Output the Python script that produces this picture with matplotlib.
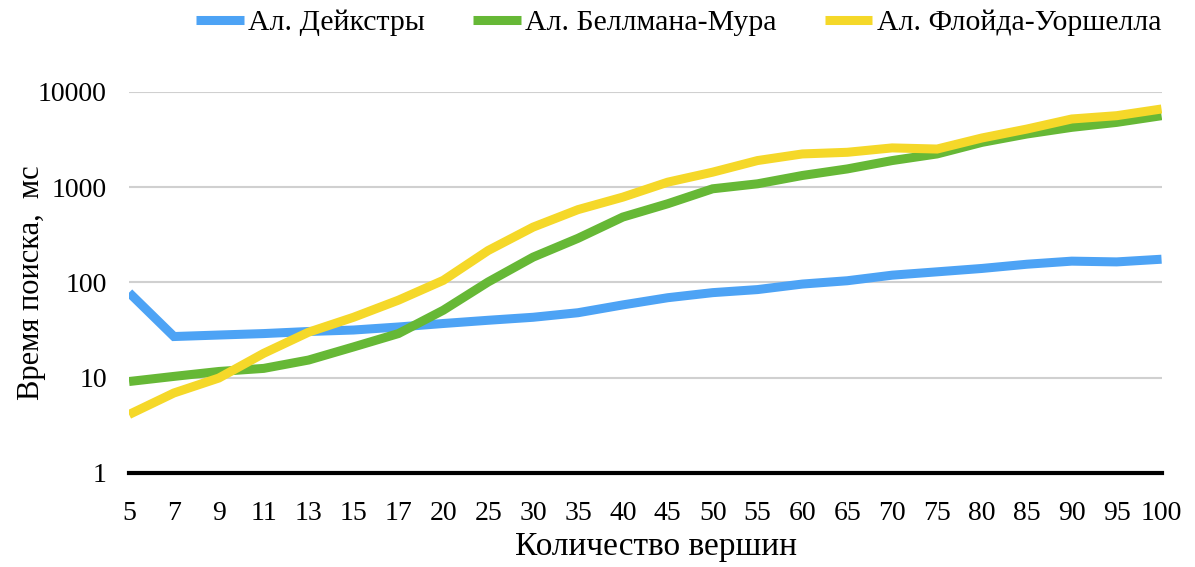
import matplotlib.pyplot as plt
import numpy as np

# number of vertices (categorical axis)
vertices = ['5', '7', '9', '11', '13', '15', '17', '20', '25', '30', '35', '40',
            '45', '50', '55', '60', '65', '70', '75', '80', '85', '90', '95', '100']

# search time, ms
dijkstra = [78, 27, 28, 29, 30.5, 31.6, 34, 37, 40, 43, 48, 58,
            69, 78, 84, 96, 104, 119, 129, 140, 155, 167, 164, 175]
bellman_moore = [9.1, 10.3, 11.6, 12.5, 15.3, 21, 29, 51, 101, 184, 290, 485,
                 669, 960, 1083, 1325, 1552, 1900, 2230, 2950, 3610, 4240, 4780, 5620]
floyd_warshall = [4.1, 6.9, 9.9, 18, 30, 43, 65, 105, 216, 380, 580, 785,
                  1127, 1435, 1900, 2230, 2320, 2580, 2510, 3280, 4070, 5190, 5620, 6610]

labels = ['Ал. Дейкстры', 'Ал. Беллмана-Мура', 'Ал. Флойда-Уоршелла']
colors = ['#4DA3F5', '#66B836', '#F5D829']

plt.rcParams['font.family'] = ['Liberation Serif', 'DejaVu Serif']

fig, ax = plt.subplots(figsize=(11.95, 5.67), dpi=100)
fig.subplots_adjust(left=0.108, right=0.972, bottom=0.166, top=0.838)

x = np.arange(len(vertices))
for ys, lab, c in zip([dijkstra, bellman_moore, floyd_warshall], labels, colors):
    ax.plot(x, ys, color=c, lw=6.5, label=lab, solid_joinstyle='miter',
            solid_capstyle='butt')

ax.set_yscale('log')
ax.set_ylim(1, 10000)
ax.set_xlim(0, len(vertices) - 1)
ax.set_yticks([1, 10, 100, 1000, 10000])
ax.set_yticklabels(['1', '10', '100', '1000', '10000'])
ax.minorticks_off()
ax.set_xticks(x)
ax.set_xticklabels(vertices)
ax.tick_params(length=0, labelsize=20)
ax.tick_params(axis='x', pad=20)
ax.tick_params(axis='y', pad=16)

ax.grid(axis='y', color='#d0d0d0', lw=1.5)
ax.set_axisbelow(True)
for s in ['top', 'right', 'left']:
    ax.spines[s].set_visible(False)
ax.spines['bottom'].set_linewidth(3)
ax.spines['bottom'].set_color('black')

ax.set_xlabel('Количество вершин', fontsize=24)
ax.xaxis.set_label_coords(0.51, -0.155)
ax.set_ylabel('Время поиска,  мс', fontsize=22)
ax.yaxis.set_label_coords(-0.08, 0.5)

fig.legend(loc='center', bbox_to_anchor=(0.568, 0.96), ncol=3, frameon=False,
           fontsize=21.5, handlelength=1.6, handletextpad=0.15, columnspacing=1.6)

fig.savefig('out.png')
